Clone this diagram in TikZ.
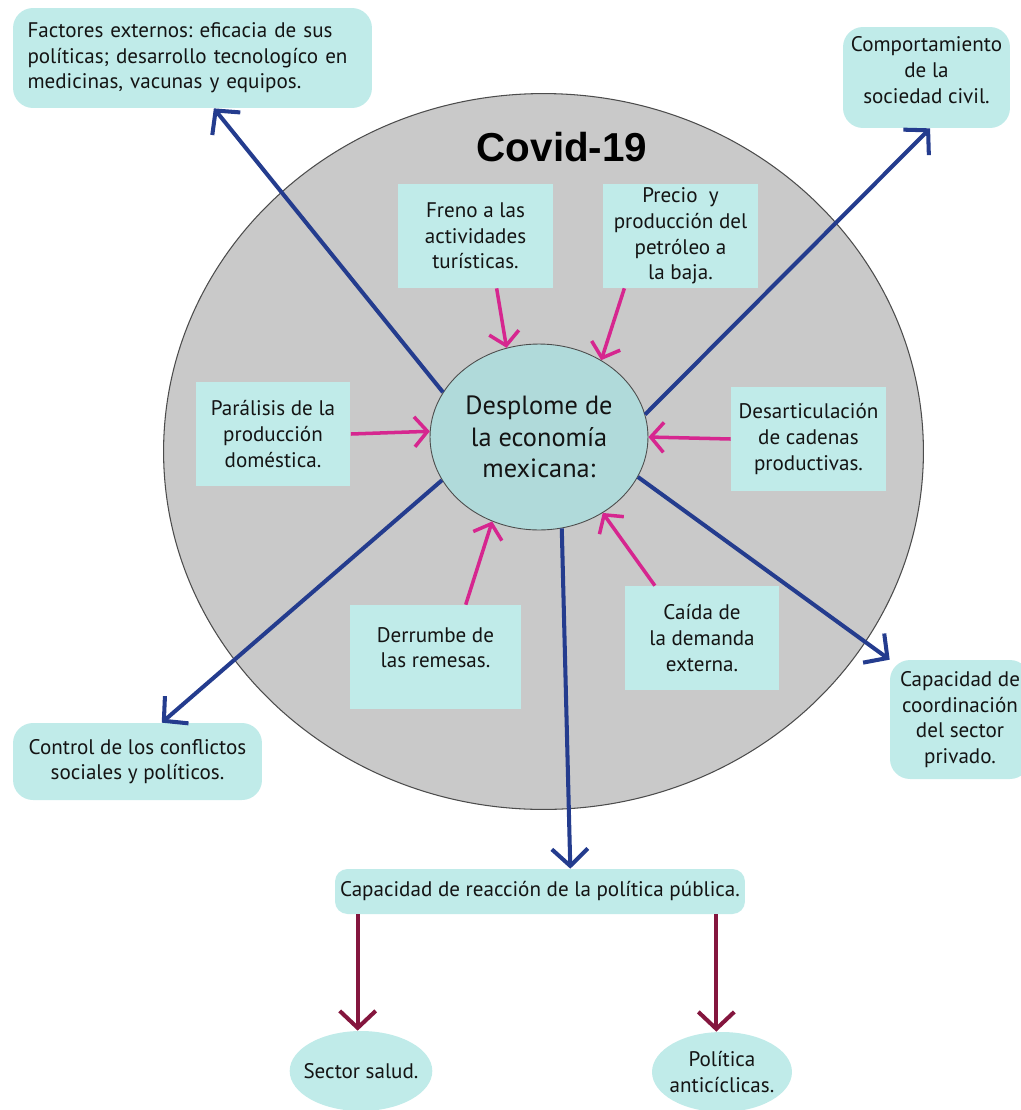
\documentclass[tikz,border=0pt]{standalone}
\usepackage{fontspec}
\setmainfont{PT Sans}
\newfontfamily\titlefont{Liberation Sans}
\usetikzlibrary{arrows.meta,shapes.geometric}
\frenchspacing

\definecolor{boxteal}{RGB}{192,235,233}
\definecolor{centerteal}{RGB}{176,218,218}
\definecolor{circlegray}{RGB}{201,201,201}
\definecolor{arrowblue}{RGB}{36,60,142}
\definecolor{arrowpink}{RGB}{214,38,143}
\definecolor{arrowwine}{RGB}{132,22,62}

\begin{document}
\begin{tikzpicture}[x=0.02cm,y=-0.02cm,
  every node/.style={font=\fontsize{12}{14.6}\selectfont, text=black!92},
  sqbox/.style={fill=boxteal, align=center, minimum width=3.1cm, minimum height=2.08cm, inner sep=2pt},
  rbox/.style={fill=boxteal, rounded corners=0.4cm, align=center, inner sep=2pt},
  oval/.style={ellipse, fill=boxteal, align=center, inner xsep=-4pt, inner ysep=0pt},
  bluearrow/.style={draw=arrowblue, line width=2.3pt, -{Straight Barb[length=0.34cm,width=0.72cm,line width=2.3pt]}},
  pinkarrow/.style={draw=arrowpink, line width=2pt, -{Straight Barb[length=0.26cm,width=0.6cm,line width=2pt]}},
  winearrow/.style={draw=arrowwine, line width=2.3pt, -{Straight Barb[length=0.34cm,width=0.72cm,line width=2.3pt]}}]

\useasboundingbox (0,0) rectangle (1021,1110);

% big circle and title
\draw[fill=circlegray, draw=black!70, line width=0.6pt] (543.5,451.5) ellipse [x radius=7.6cm, y radius=7.16cm];
\node[font=\titlefont\fontsize{23}{26}\selectfont\bfseries, text=black] (covid) at (562,147) {Covid-19};

% centre
\node[ellipse, fill=centerteal, draw=black!70, line width=0.5pt, minimum width=4.36cm, minimum height=3.72cm, inner sep=0pt,
  align=center, font=\fontsize{15}{18}\selectfont] (econ) at (539,437) {Desplome de\\ la economía\\ mexicana:};

% causes
\node[sqbox] (freno) at (475.5,236) {Freno a las\\ actividades\\ turísticas.};
\node[sqbox] (precio) at (680.5,236) {Precio~ y\\ producción del\\ petróleo a\\ la baja.};
\node[sqbox] (paral) at (273,434) {Parálisis de la\\ producción\\ doméstica.};
\node[sqbox] (desart) at (808.5,439) {Desarticulación\\ de cadenas\\ productivas.};
\node[sqbox, minimum width=3.42cm] (derrumbe) at (435.5,657) {Derrumbe de\\ las remesas.\\[-4pt]};
\node[sqbox] (caida) at (702,638) {Caída de\\ la demanda\\ externa.};

% factors
\node[rbox, text width=6.6cm, align=left, inner xsep=0.29cm, minimum height=2cm] (factores) at (192.5,58)
  {Factores externos: eficacia de sus\\ políticas; desarrollo tecnologíco en\\ medicinas, vacunas y equipos.\\[-4pt]};
\node[rbox, minimum width=3.34cm, minimum height=2.02cm] (comport) at (926.5,77.5) {Comportamiento\\ de la\\ sociedad civil.\\[-6pt]};
\node[rbox, minimum width=2.8cm, minimum height=2.38cm] (coord) at (960,719.5) {Capacidad de\\ coordinación\\ del sector\\ privado.};
\node[rbox, minimum width=4.98cm, minimum height=1.54cm] (control) at (137.5,761.5) {Control de los conflictos\\ sociales y políticos.};
\node[rbox, minimum width=8.2cm, minimum height=0.9cm, rounded corners=0.25cm] (reaccion) at (540,891.5) {Capacidad de reacción de la política pública.};
\node[oval, minimum width=2.76cm, minimum height=1.6cm] (salud) at (361,1071) {Sector salud.};
\node[oval, minimum width=2.8cm, minimum height=1.6cm] (politica) at (722,1072) {Política\\ anticíclicas.};

% arrows into the centre
\draw[pinkarrow] (freno.-68.5) -- (econ.110);
\draw[pinkarrow] (precio.-137) -- (econ.51);
\draw[pinkarrow] (paral.east) -- (econ.177);
\draw[pinkarrow] (desart.west) -- (econ.0);
\draw[pinkarrow] (derrumbe.60.4) -- (econ.241);
\draw[pinkarrow] (caida.132) -- (econ.310);

% arrows out of the centre
\draw[bluearrow] (econ.155) -- (factores.-67.7);
\draw[bluearrow] (econ.12) -- (comport.-86);
\draw[bluearrow] (econ.204) -- (control.58);
\draw[bluearrow] (econ.338) -- (coord.north west);
\draw[bluearrow] (econ.284.5) -- (reaccion.37);

% policy
\draw[winearrow] ([xshift=0.46cm]reaccion.south west) -- ([xshift=0.46cm]reaccion.south west |- salud.north);
\draw[winearrow] ([xshift=-0.58cm]reaccion.south east) -- ([xshift=-0.58cm]reaccion.south east |- politica.north);

\end{tikzpicture}
\end{document}
